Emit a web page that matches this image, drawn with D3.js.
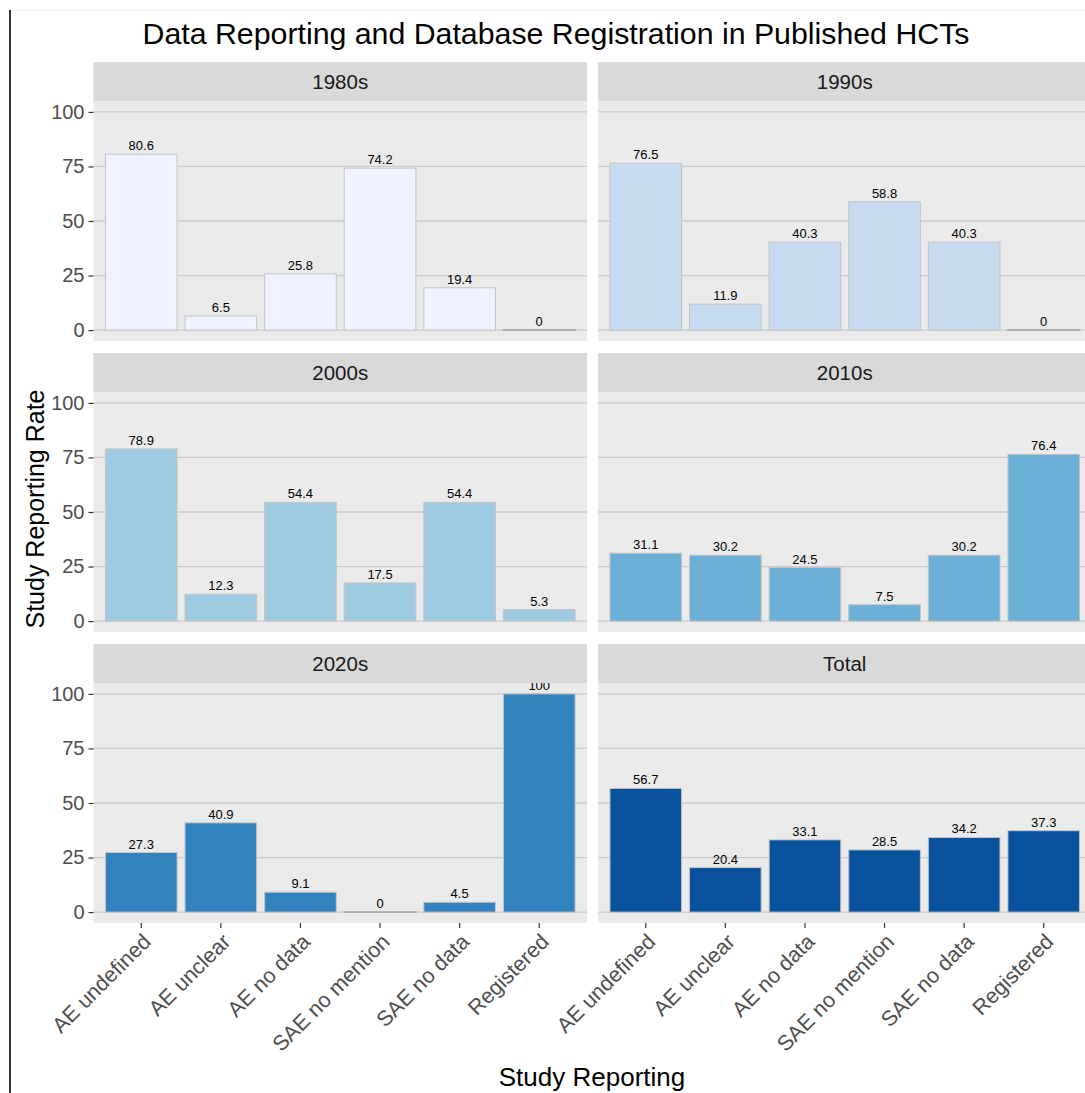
<!DOCTYPE html>
<html>
<head>
<meta charset="utf-8">
<script src="https://cdn.jsdelivr.net/npm/d3@7"></script>
<style>
  body { margin: 0; background: #fff; }
  svg { display: block; font-family: "Liberation Sans", Arial, sans-serif; }
</style>
</head>
<body>
<div id="chart"></div>
<script>
// data
const categories = ["AE undefined", "AE unclear", "AE no data", "SAE no mention", "SAE no data", "Registered"];
const facets = ["1980s", "1990s", "2000s", "2010s", "2020s", "Total"];
const v1980s = [80.6, 6.5, 25.8, 74.2, 19.4, 0];
const v1990s = [76.5, 11.9, 40.3, 58.8, 40.3, 0];
const v2000s = [78.9, 12.3, 54.4, 17.5, 54.4, 5.3];
const v2010s = [31.1, 30.2, 24.5, 7.5, 30.2, 76.4];
const v2020s = [27.3, 40.9, 9.1, 0, 4.5, 100];
const vTotal = [56.7, 20.4, 33.1, 28.5, 34.2, 37.3];
const yTicks = [0, 25, 50, 75, 100];
const fills = ["#EFF3FF", "#C6DBEF", "#9ECAE1", "#6BAED6", "#3182BD", "#08519C"];

const series = [v1980s, v1990s, v2000s, v2010s, v2020s, vTotal];

const W = 1085, H = 1093;
const colX = [93.5, 598];
const panelW = 493.5;
const rowTop = [62, 353, 644];
const stripH = 39, panelH = 240;

const svg = d3.select('#chart').append('svg')
  .attr('width', W).attr('height', H);

// outer frame bits
svg.append('line').attr('x1', 11).attr('x2', W).attr('y1', 10.5).attr('y2', 10.5)
  .attr('stroke', '#efefef').attr('stroke-width', 1);
svg.append('line').attr('x1', 10).attr('x2', 10).attr('y1', 10).attr('y2', H)
  .attr('stroke', '#333').attr('stroke-width', 2);

svg.append('text')
  .attr('x', 556).attr('y', 44)
  .attr('text-anchor', 'middle')
  .attr('font-size', 30.3)
  .attr('fill', '#000')
  .text('Data Reporting and Database Registration in Published HCTs');

const x = d3.scaleBand()
  .domain(categories)
  .range([0, panelW])
  .paddingInner(0.1)
  .paddingOuter(0.15);

const y = d3.scaleLinear()
  .domain([-5, 105])
  .range([panelH, 0]);

facets.forEach((name, i) => {
  const col = i % 2, row = Math.floor(i / 2);
  const values = series[i];
  const g = svg.append('g')
    .attr('transform', `translate(${colX[col]},${rowTop[row]})`);

  // strip
  g.append('rect').attr('width', panelW).attr('height', stripH).attr('fill', '#d9d9d9');
  g.append('text')
    .attr('x', panelW / 2).attr('y', stripH / 2)
    .attr('dy', '0.36em')
    .attr('text-anchor', 'middle')
    .attr('font-size', 20.5)
    .attr('fill', '#1a1a1a')
    .text(name);

  const p = g.append('g').attr('transform', `translate(0,${stripH})`);
  const clipId = 'clip' + i;
  p.append('clipPath').attr('id', clipId)
    .append('rect').attr('width', panelW).attr('height', panelH);

  p.append('rect').attr('width', panelW).attr('height', panelH).attr('fill', '#ebebeb');

  p.selectAll('.grid').data(yTicks).enter().append('line')
    .attr('x1', 0).attr('x2', panelW)
    .attr('y1', d => y(d)).attr('y2', d => y(d))
    .attr('stroke', '#cbcbcb').attr('stroke-width', 1.3);

  const inner = p.append('g').attr('clip-path', `url(#${clipId})`);

  // zero-height rects are not painted, so keep a hairline height for the outline
  inner.selectAll('rect.bar').data(values).enter().append('rect')
    .attr('class', 'bar')
    .attr('x', (d, j) => x(categories[j]))
    .attr('y', d => y(d))
    .attr('width', x.bandwidth())
    .attr('height', d => Math.max(y(0) - y(d), 0.01))
    .attr('fill', fills[i])
    .attr('stroke', d => d === 0 ? '#aaaaaa' : '#c4c4c4')
    .attr('stroke-width', d => d === 0 ? 1.8 : 1);

  inner.selectAll('text.val').data(values).enter().append('text')
    .attr('class', 'val')
    .attr('x', (d, j) => x(categories[j]) + x.bandwidth() / 2)
    .attr('y', d => y(d) - 4)
    .attr('text-anchor', 'middle')
    .attr('font-size', 13)
    .attr('fill', '#000')
    .text(d => d3.format('')(d));

  if (col === 0) {
    const ya = p.append('g').call(d3.axisLeft(y).tickValues(yTicks).tickSize(5).tickPadding(4));
    ya.select('.domain').remove();
    ya.selectAll('line').attr('stroke', '#333').attr('stroke-width', 1.2);
    ya.selectAll('text').attr('font-size', 20).attr('fill', '#4d4d4d')
      .attr('font-family', '"Liberation Sans", Arial, sans-serif');
  }

  if (row === 2) {
    const xa = p.append('g')
      .attr('transform', `translate(0,${panelH})`)
      .call(d3.axisBottom(x).tickSize(5).tickPadding(0));
    xa.select('.domain').remove();
    xa.selectAll('line').attr('stroke', '#333').attr('stroke-width', 1.2);
    xa.selectAll('text')
      .attr('font-size', 21.5).attr('fill', '#4d4d4d')
      .attr('font-family', '"Liberation Sans", Arial, sans-serif')
      .attr('text-anchor', 'end')
      .attr('y', 0).attr('dy', '0.72em')
      .attr('transform', 'translate(0,9) rotate(-45)');
  }
});

svg.append('text')
  .attr('transform', 'translate(44,509) rotate(-90)')
  .attr('text-anchor', 'middle')
  .attr('font-size', 25)
  .attr('fill', '#000')
  .text('Study Reporting Rate');

svg.append('text')
  .attr('x', 592).attr('y', 1086)
  .attr('text-anchor', 'middle')
  .attr('font-size', 26)
  .attr('fill', '#000')
  .text('Study Reporting');
</script>
</body>
</html>
